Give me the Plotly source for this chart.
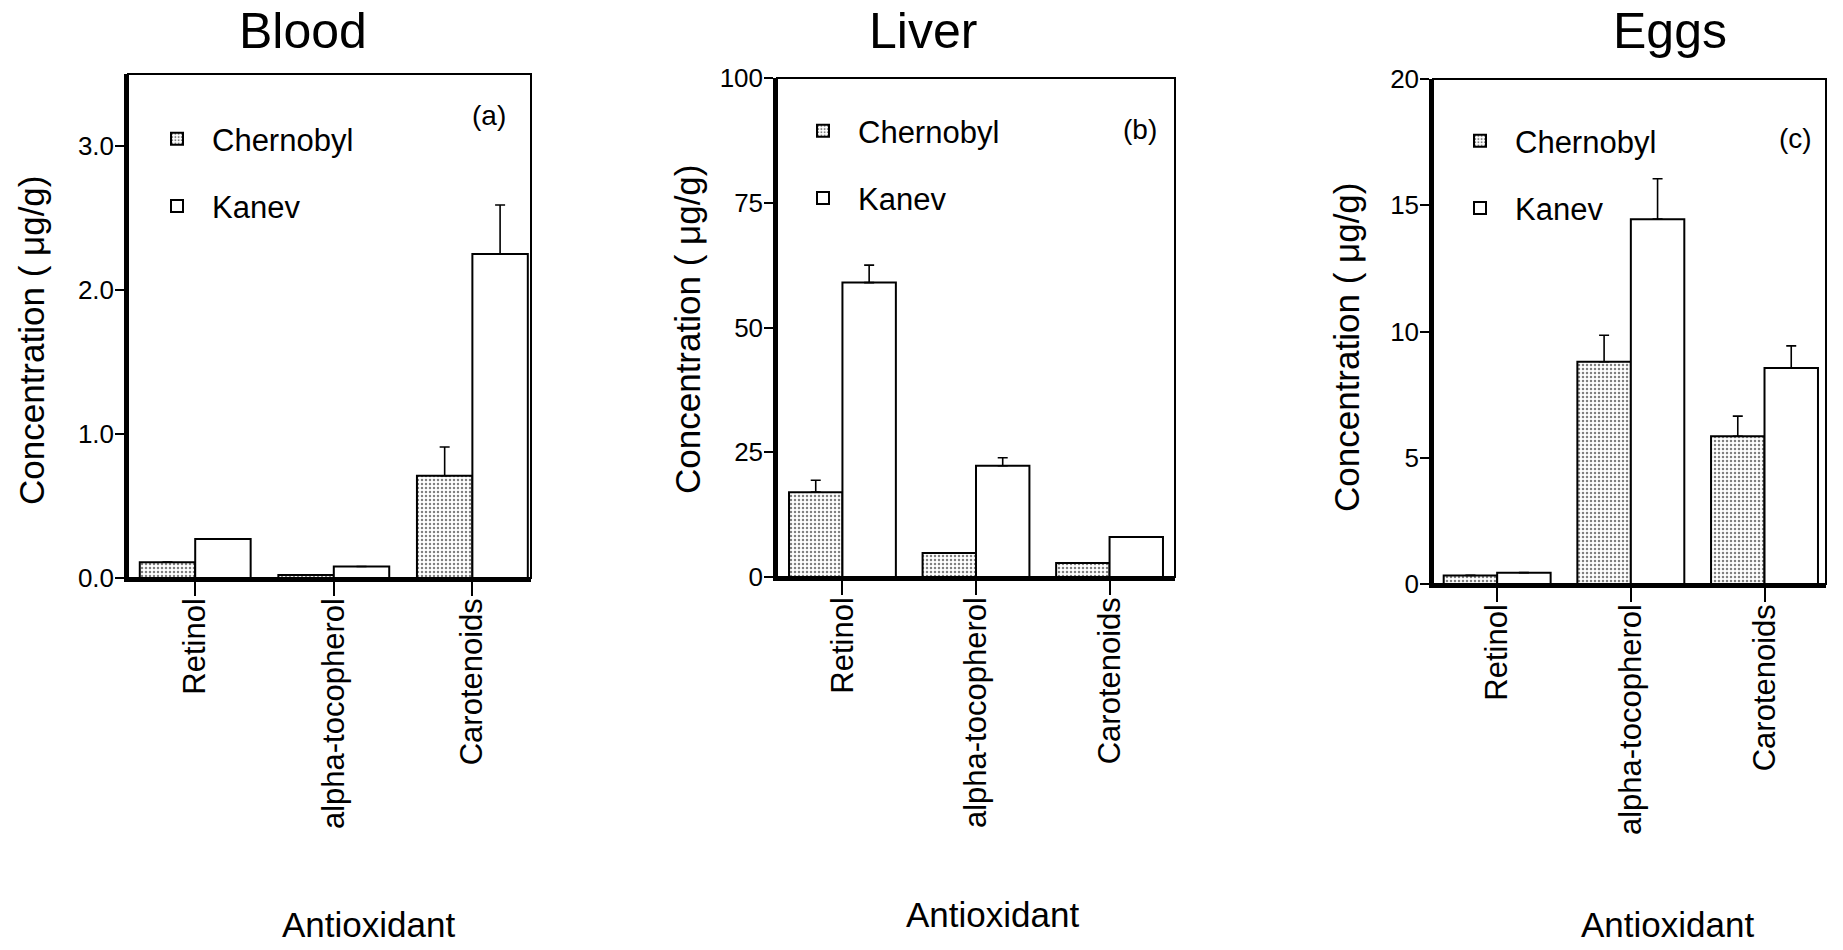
import plotly.graph_objects as go

# ---- data -------------------------------------------------------------
antioxidants = ["Retinol", "alpha-tocopherol", "Carotenoids"]
groups = ["Chernobyl", "Kanev"]

blood_chernobyl = [0.11, 0.02, 0.71]
blood_chernobyl_err = [0.0, 0.0, 0.20]
blood_kanev = [0.27, 0.08, 2.25]
blood_kanev_err = [0.0, 0.0, 0.34]

liver_chernobyl = [17.0, 4.8, 2.8]
liver_chernobyl_err = [2.4, 0.0, 0.0]
liver_kanev = [59.0, 22.3, 8.0]
liver_kanev_err = [3.5, 1.6, 0.0]

eggs_chernobyl = [0.34, 8.8, 5.85]
eggs_chernobyl_err = [0.0, 1.05, 0.8]
eggs_kanev = [0.45, 14.45, 8.55]
eggs_kanev_err = [0.0, 1.6, 0.88]

# ---- layout constants ---------------------------------------------------
W, H = 1843, 950
FONT = "Liberation Sans, Arial, Helvetica, sans-serif"

# plot boxes in pixels: (left, right, top, bottom)
boxes = {
    "a": (128, 531, 74, 578),
    "b": (777, 1175, 78, 577),
    "c": (1433, 1826, 79, 584),
}
x_ranges = {"a": [-0.485, 2.423], "b": [-0.49, 2.49], "c": [-0.48, 2.46]}
y_ranges = {"a": [0, 3.5], "b": [0, 100], "c": [0, 20]}
y_dtick = {"a": 1, "b": 25, "c": 5}
y_fmt = {"a": ".1f", "b": "d", "c": "d"}

panels = [
    ("a", "Blood", blood_chernobyl, blood_chernobyl_err, blood_kanev, blood_kanev_err),
    ("b", "Liver", liver_chernobyl, liver_chernobyl_err, liver_kanev, liver_kanev_err),
    ("c", "Eggs", eggs_chernobyl, eggs_chernobyl_err, eggs_kanev, eggs_kanev_err),
]

# legend placement (symbol centre of first row, px)
legend_pos = {"a": (177, 141), "b": (823, 133), "c": (1480, 143)}
tag_pos = {"a": (489, 116), "b": (1140, 130), "c": (1795, 138)}
title_pos = {"a": (303, 31), "b": (923, 31), "c": (1670, 31)}
ytitle_pos = {"a": (31, 340), "b": (688, 329), "c": (1346, 347)}
xtitle_pos = {"a": (368, 924), "b": (993, 914), "c": (1667, 924)}


def px_x(v):
    return v / W


def px_y(v):
    return 1 - v / H


def label(text, pos, size, angle=0):
    x, y = pos
    return dict(text=text, x=px_x(x), y=px_y(y), xref="paper", yref="paper",
                xanchor="center", yanchor="middle", showarrow=False,
                textangle=angle, font=dict(family=FONT, size=size, color="black"))


fig = go.Figure()
annotations = []
shapes = []

for i, (key, name, ch, ch_err, ka, ka_err) in enumerate(panels):
    n = "" if i == 0 else str(i + 1)
    xa, ya = "x" + n, "y" + n
    leg = "legend" + n

    fig.add_trace(go.Bar(
        x=antioxidants, y=ch, name=groups[0],
        xaxis=xa, yaxis=ya, legend=leg, legendgroup=key + "1",
        marker=dict(color="white",
                    line=dict(color="black", width=2),
                    pattern=dict(shape=".", fgcolor="black", bgcolor="white",
                                 size=4, solidity=0.3, fillmode="overlay")),
        error_y=dict(type="data", symmetric=False, array=ch_err,
                     arrayminus=[0] * len(ch_err), color="black",
                     thickness=1.6, width=5),
    ))
    fig.add_trace(go.Bar(
        x=antioxidants, y=ka, name=groups[1],
        xaxis=xa, yaxis=ya, legend=leg, legendgroup=key + "2",
        marker=dict(color="white", line=dict(color="black", width=2)),
        error_y=dict(type="data", symmetric=False, array=ka_err,
                     arrayminus=[0] * len(ka_err), color="black",
                     thickness=1.6, width=5),
    ))

    l, r, t, b = boxes[key]
    fig.layout["xaxis" + n] = dict(
        domain=[px_x(l), px_x(r)], anchor=ya, range=x_ranges[key],
        showline=True, linecolor="black", linewidth=3.5,
        ticks="outside", ticklen=14, tickwidth=2, tickcolor="black",
        tickangle=-90, ticklabelstandoff=-10, automargin=False,
        showgrid=False, zeroline=False, fixedrange=True,
        tickfont=dict(family=FONT, size=31, color="black"),
    )
    fig.layout["yaxis" + n] = dict(
        domain=[px_y(b), px_y(t)], anchor=xa, range=y_ranges[key],
        dtick=y_dtick[key], tick0=0, tickformat=y_fmt[key],
        showline=True, linecolor="black", linewidth=3.5,
        ticks="outside", ticklen=9, tickwidth=2, tickcolor="black",
        ticklabelstandoff=-4, automargin=False,
        showgrid=False, zeroline=False, fixedrange=True,
        tickfont=dict(family=FONT, size=26, color="black"),
    )

    # thin frame around the plotting area
    shapes.append(dict(type="rect", xref=xa + " domain", yref=ya + " domain",
                       x0=0, x1=1, y0=0, y1=1,
                       line=dict(color="black", width=2), layer="above"))

    sx, sy = legend_pos[key]
    fig.layout[leg] = dict(
        x=px_x(sx - 35), y=px_y(sy - 29), xanchor="left", yanchor="top",
        bgcolor="rgba(0,0,0,0)", borderwidth=0, itemwidth=60,
        traceorder="grouped", tracegroupgap=24,
        font=dict(family=FONT, size=31, color="black"),
    )

    annotations.append(label(f"({key})", tag_pos[key], 28))
    annotations.append(label(name, title_pos[key], 50))
    annotations.append(label("Concentration ( μg/g)", ytitle_pos[key], 35, -90))
    annotations.append(label("Antioxidant", xtitle_pos[key], 35))

fig.update_layout(
    width=W, height=H,
    margin=dict(l=0, r=0, t=0, b=0, pad=0),
    paper_bgcolor="white", plot_bgcolor="white",
    barmode="group", bargap=0.2, bargroupgap=0,
    annotations=annotations, shapes=shapes,
    font=dict(family=FONT, color="black"),
)

fig.write_html("out.html")
